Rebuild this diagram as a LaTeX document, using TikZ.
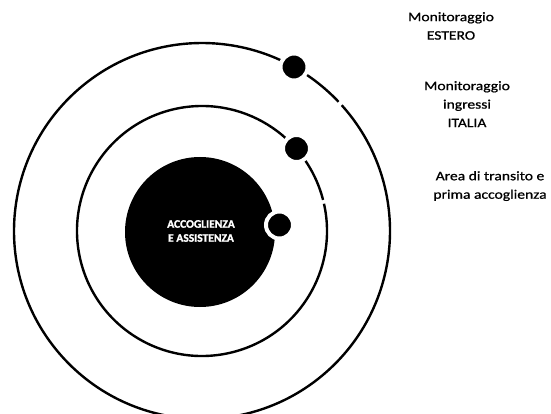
\documentclass[tikz,border=0pt]{standalone}
\usepackage{fontspec}
\setmainfont{Carlito}[FakeStretch=1.2,FakeBold=0.8]
\newfontfamily\innerfont{Carlito}[BoldFeatures={FakeBold=1.5}]
\begin{document}
\begin{tikzpicture}[x=1pt,y=-1pt,
  ring/.style={line width=2.4pt},
  dot/.style={circle,fill=black,draw=white,line width=4pt,minimum size=27pt,inner sep=0pt},
  lbl/.style={align=center,anchor=north,inner sep=0pt,font=\fontsize{13}{18.5}\selectfont}]
\useasboundingbox (0,0) rectangle (551,414);
\coordinate (c) at (202,231);
% outer and middle rings (with small breaks)
\draw[ring] (c) ++(-42.0:188) arc[start angle=-42.0, end angle=316.6, radius=188];
\draw[ring] (c) ++(-12.6:125) arc[start angle=-12.6, end angle=345.6, radius=125];
% core disk
\node[circle,fill=black,minimum size=150pt,inner sep=0pt] (core) at (200,232) {};
\node[text=white,align=center,inner sep=0pt,font=\innerfont\bfseries\fontsize{11.5}{14}\selectfont] (corelbl) at (201,231) {ACCOGLIENZA\\E ASSISTENZA};
% dots
\node[dot] (d1) at (294,67) {};
\node[dot] (d2) at (296.5,148.5) {};
\node[dot] (d3) at (279.5,225) {};
% labels
\node[lbl] (estero) at (451,12) {Monitoraggio\\ESTERO};
\node[lbl] (italia) at (467,81) {Monitoraggio\\ingressi\\ITALIA};
\node[lbl] (area) at (490,171) {Area di transito e\\prima accoglienza};
\end{tikzpicture}
\end{document}
